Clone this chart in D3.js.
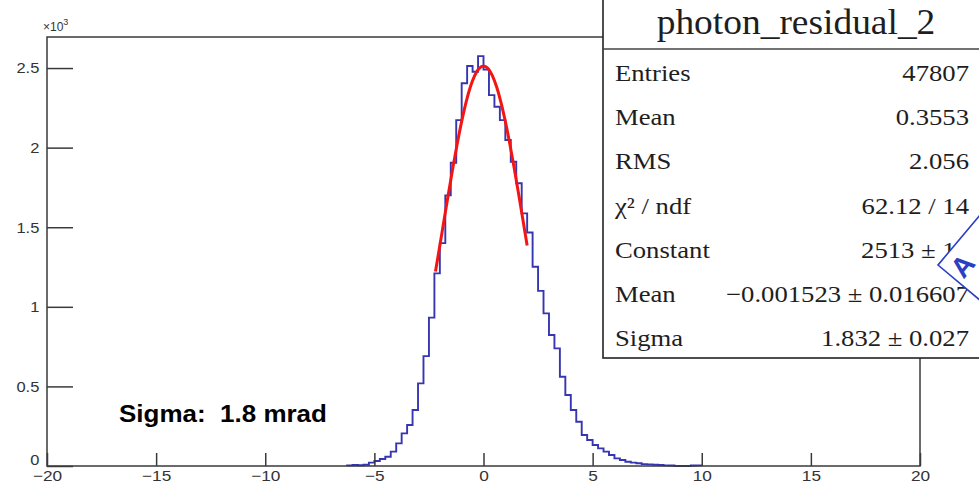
<!DOCTYPE html>
<html>
<head>
<meta charset="utf-8">
<script src="https://cdn.jsdelivr.net/npm/d3@7"></script>
<style>
  body { margin: 0; background: #fff; }
  svg { display: block; }
</style>
</head>
<body>
<svg id="vis" width="979" height="483"></svg>
<script>
// histogram: bins of 0.25 starting at -6.25 (counts)
const binStart = -6.25
const binWidth = 0.25
const counts = [
    4, 6, 5, 8, 21, 31, 44, 58, 90, 142, 205, 258, 352, 519, 690, 932,
    1210, 1400, 1700, 1905, 2173, 2404, 2513, 2477, 2575, 2490, 2330, 2257,
    2173, 2048, 1911, 1776, 1587, 1467, 1252, 1100, 959, 823, 739, 561, 446,
    352, 278, 195, 163, 132, 111, 90, 69, 48, 38, 27, 21, 17, 12, 10, 8, 6,
    4, 3, 0, 0, 0, 3, 4
]

// red fit curve
const fitX = [-2.2, -2.0, -1.8, -1.6, -1.4, -1.2, -1.0, -0.8, -0.6, -0.4, -0.2, 0,
    0.2, 0.4, 0.6, 0.8, 1.0, 1.2, 1.4, 1.6, 1.8, 2.0]
const fitY = [1222, 1385, 1551, 1716, 1877, 2028, 2165, 2285, 2382, 2454, 2498, 2513,
    2498, 2454, 2382, 2285, 2165, 2028, 1877, 1716, 1551, 1385]

const xMajor = [-20, -15, -10, -5, 0, 5, 10, 15, 20]
const yMajor = [0, 500, 1000, 1500, 2000, 2500]

const statTitle = "photon_residual_2"
const statLabels = ["Entries", "Mean", "RMS", "χ² / ndf", "Constant", "Mean", "Sigma"]
const statValues = ["47807", "0.3553", "2.056", "62.12 / 14", "2513 ± 19", "−0.001523 ± 0.016607", "1.832 ± 0.027"]

const svg = d3.select("#vis")

const x = d3.scaleLinear().domain([-20, 20]).range([47, 920])
const y = d3.scaleLinear().domain([0, 2695]).range([466, 37])

// histogram outline
let steps = counts.map((c, i) => ({ x: binStart + i * binWidth, y: c }))
steps.unshift({ x: binStart, y: 0 })
steps.push({ x: binStart + counts.length * binWidth, y: counts[counts.length - 1] })
steps.push({ x: binStart + counts.length * binWidth, y: 0 })

svg.append("path")
    .datum(steps)
    .attr("fill", "none")
    .attr("stroke", "#3636b0")
    .attr("stroke-width", 1.9)
    .attr("d", d3.line().x(d => x(d.x)).y(d => y(d.y)).curve(d3.curveStepAfter))

// fit
svg.append("path")
    .datum(fitX.map((v, i) => [v, fitY[i]]))
    .attr("fill", "none")
    .attr("stroke", "#f41414")
    .attr("stroke-width", 3)
    .attr("d", d3.line().x(d => x(d[0])).y(d => y(d[1])).curve(d3.curveMonotoneX))

// frame
const axisColor = "#3a3a3a"
svg.append("rect")
    .attr("x", 47).attr("y", 37)
    .attr("width", 873).attr("height", 429)
    .attr("fill", "none")
    .attr("stroke", axisColor)
    .attr("stroke-width", 1.5)

// x axis
let gx = svg.append("g").attr("transform", "translate(0,466)")
gx.call(d3.axisBottom(x).tickValues(d3.range(-20, 21, 1)).tickSize(-6.5).tickFormat(""))
gx.call(d3.axisBottom(x).tickValues(xMajor).tickSize(-13).tickPadding(4))
gx.selectAll(".domain").remove()
gx.selectAll("line").attr("stroke", axisColor).attr("stroke-width", 1.5)
gx.selectAll("text")
    .attr("font-family", "Liberation Sans, Arial, sans-serif")
    .attr("font-size", 15)
    .attr("fill", "#333")
    .attr("transform", "scale(1.15,1)")

// y axis
let gy = svg.append("g").attr("transform", "translate(47,0)")
gy.call(d3.axisLeft(y).tickValues(d3.range(0, 2700, 100)).tickSize(-13).tickFormat(""))
gy.call(d3.axisLeft(y).tickValues(yMajor).tickSize(-26).tickPadding(7)
    .tickFormat(d => d3.format("~g")(d / 1000)))
gy.selectAll(".domain").remove()
gy.selectAll("line").attr("stroke", axisColor).attr("stroke-width", 1.5)
gy.selectAll("text")
    .attr("font-family", "Liberation Sans, Arial, sans-serif")
    .attr("font-size", 15)
    .attr("fill", "#333")
    .attr("transform", "scale(1.1,1)")
gy.selectAll(".tick").filter(d => d === 0).select("text").attr("dy", "-0.1em")

// exponent label
let ex = svg.append("text")
    .attr("x", 43).attr("y", 31)
    .attr("font-family", "Liberation Sans, Arial, sans-serif")
    .attr("font-size", 12)
    .attr("fill", "#333")
ex.append("tspan").text("×10")
ex.append("tspan").attr("dy", -6).attr("font-size", 9).text("3")

// annotation
svg.append("text")
    .attr("transform", "translate(119,422) scale(1.13,1)")
    .attr("font-family", "Liberation Sans, Arial, sans-serif")
    .attr("font-weight", "bold")
    .attr("font-size", 23)
    .attr("fill", "#000")
    .attr("xml:space", "preserve")
    .text("Sigma:  1.8 mrad")

// stats box
let box = svg.append("g")
box.append("rect")
    .attr("x", 603).attr("y", -2)
    .attr("width", 400).attr("height", 360)
    .attr("fill", "#fff")
    .attr("stroke", "#222")
    .attr("stroke-width", 1.6)
box.append("line")
    .attr("x1", 603).attr("x2", 1003)
    .attr("y1", 49).attr("y2", 49)
    .attr("stroke", "#444").attr("stroke-width", 1.6)
box.append("text")
    .attr("transform", "translate(796,34) scale(1.07,1)")
    .attr("text-anchor", "middle")
    .attr("font-family", "Liberation Serif, Times New Roman, serif")
    .attr("font-size", 35)
    .attr("fill", "#1e1e1e")
    .text(statTitle)

const rowY = d3.scaleLinear().domain([0, 6]).range([81, 346])
box.selectAll("text.lab")
    .data(statLabels)
    .join("text")
    .attr("class", "lab")
    .attr("transform", (d, i) => `translate(615,${rowY(i)}) scale(1.16,1)`)
    .attr("font-family", "Liberation Serif, Times New Roman, serif")
    .attr("font-size", 23)
    .attr("fill", "#1e1e1e")
    .text(d => d)
box.selectAll("text.val")
    .data(statValues)
    .join("text")
    .attr("class", "val")
    .attr("transform", (d, i) => `translate(969,${rowY(i)}) scale(1.16,1)`)
    .attr("text-anchor", "end")
    .attr("font-family", "Liberation Serif, Times New Roman, serif")
    .attr("font-size", 23)
    .attr("fill", "#1e1e1e")
    .text(d => d)

// stamp overlapping the box edge
let stamp = svg.append("g").attr("transform", "translate(938,265) rotate(-50)")
stamp.append("rect")
    .attr("width", 110).attr("height", 110)
    .attr("fill", "#fff")
    .attr("stroke", "#2b3fc4")
    .attr("stroke-width", 1.6)
stamp.append("text")
    .attr("x", 5).attr("y", 29)
    .attr("font-family", "Liberation Sans, Arial, sans-serif")
    .attr("font-weight", "bold")
    .attr("font-size", 28)
    .attr("fill", "#2b3fc4")
    .text("A")
</script>
</body>
</html>
